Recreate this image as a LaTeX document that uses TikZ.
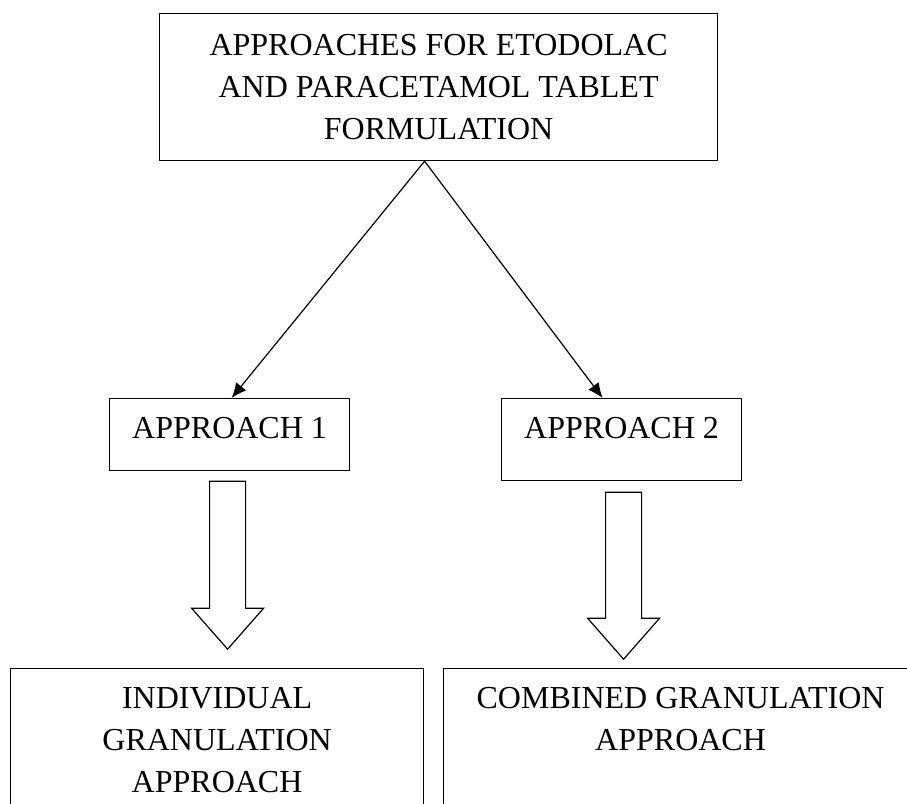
\documentclass[tikz,border=0pt]{standalone}
\usepackage{fontspec}
\setmainfont{Liberation Serif}
\usetikzlibrary{arrows.meta,positioning}

\begin{document}
\begin{tikzpicture}[x=1pt, y=-1pt,
		font=\fontsize{32}{42}\selectfont,
		block/.style={draw, line width=1.2pt, inner sep=0pt, align=center, anchor=north west},
		hollow/.style={draw, line width=1.2pt, fill=white, line join=miter}
	]
		\useasboundingbox (0,0) rectangle (907,803);
		\clip (0,0) rectangle (907,803);

		\node[block, minimum width=558pt, minimum height=147pt] (top) at (159,13) {APPROACHES FOR ETODOLAC\\AND PARACETAMOL TABLET\\FORMULATION};
		\node[block, minimum width=240pt, text height=40pt, text depth=32pt] (app1) at (109,398) {APPROACH 1};
		\node[block, minimum width=240pt, text height=40pt, text depth=42pt] (app2) at (501,398) {APPROACH 2};
		\node[block, minimum width=413pt, minimum height=200pt,
			label={[anchor=north, inner sep=0pt, yshift=-19pt, align=center]north:INDIVIDUAL\\GRANULATION\\APPROACH}] (indiv) at (10,668) {};
		\node[block, minimum width=474pt, minimum height=200pt,
			label={[anchor=north, inner sep=0pt, yshift=-19pt, align=center]north:COMBINED GRANULATION\\APPROACH}] (comb) at (443,668) {};

		\draw[line width=1.2pt, -{Latex[length=15pt,width=13pt]}] ([xshift=-14pt]top.south) -- ([xshift=2pt]app1.north);
		\draw[line width=1.2pt, -{Latex[length=15pt,width=13pt]}] ([xshift=-14pt]top.south) -- ([xshift=-19pt]app2.north);

		\draw[hollow] ([xshift=-20pt,yshift=-10pt]app1.south) -- ++(36,0) -- ++(0,127) -- ++(18,0) -- ++(-36,41) -- ++(-36,-41) -- ++(18,0) -- cycle;
		\draw[hollow] ([xshift=-16pt,yshift=-11pt]app2.south) -- ++(36,0) -- ++(0,126) -- ++(18,0) -- ++(-36,41) -- ++(-36,-41) -- ++(18,0) -- cycle;
	\end{tikzpicture}
\end{document}
